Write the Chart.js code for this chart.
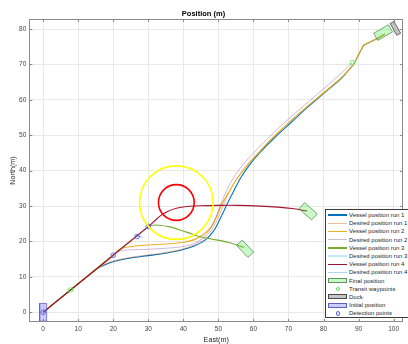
<!DOCTYPE html>
<html>
<head>
<meta charset="utf-8">
<title>Position (m)</title>
<script src="https://cdn.jsdelivr.net/npm/chart.js@4.4.1/dist/chart.umd.min.js"></script>
<style>
  body { margin: 0; background: #fff; }
  #wrap { position: relative; width: 408px; height: 344px; }
  #plot { display: block; }
  #legend {
    position: absolute; left: 325px; top: 209px; width: 84px; height: 109px;
    box-sizing: border-box; border: 1px solid #3c3c3c; background: #fff;
    font-family: "Liberation Sans", Arial, sans-serif; font-size: 6px; color: #262626;
    padding-top: 1px;
  }
  .item { position: relative; height: 8.2px; white-space: nowrap; }
  .item .txt { position: absolute; left: 23px; top: 0; line-height: 8.2px; }
  .item .sw { position: absolute; }
  .sw.line { left: 2px; width: 19px; }
  .sw.patch { left: 2px; top: 1.6px; width: 19px; height: 5px; box-sizing: border-box; border: 1px solid; }
  .sw.marker { left: 9.5px; top: 2px; width: 4.4px; height: 4.4px; box-sizing: border-box; border: 1px solid; border-radius: 50%; }
</style>
</head>
<body>
<div id="wrap">
  <canvas id="plot" width="408" height="344"></canvas>
  <div id="legend"></div>
</div>
<script>
// vessel tracks, [east, north] in metres
const vessel1 = [[0, 0], [15, 12], [16.5, 12.9], [18.5, 13.8], [20.7, 14.5], [23, 15.0], [25.4, 15.4], [30, 16], [35, 16.7],
  [39.5, 17.6], [43.3, 18.8], [46.2, 20.4], [48.5, 22.8], [50.2, 25.8], [51.5, 28.5], [52.7, 31.0], [54.5, 34.5],
  [56.5, 38.2], [59, 41.8], [62, 45.3], [66, 49.3], [70.5, 53.4], [75.3, 57.8], [80, 61.8], [85, 66], [88.2, 69.6],
  [88.5, 69.9], [88.7, 70.3], [91.2, 75.0], [91.4, 75.4], [91.8, 75.6], [96, 77.7], [97.5, 78.6]];
const desired1 = [[0, 0], [15, 12], [16.5, 13.1], [18.5, 14], [20.7, 14.7], [25.4, 15.6], [30, 16.2], [35, 16.9],
  [39.5, 17.8], [43, 19], [45.8, 20.7], [48, 23.2], [49.7, 26.2], [51, 29.2], [52.3, 32.3], [54, 35.7], [56.3, 39.2],
  [59, 42.6], [62.5, 46.2], [66.5, 50.2], [70.5, 54], [75.3, 58.1], [80, 62], [85, 66.2], [88.2, 69.6],
  [88.5, 69.9], [88.7, 70.3], [91.2, 75.0], [91.4, 75.4], [91.8, 75.6], [96, 77.7], [97.5, 78.6]];
const vessel2 = [[0, 0], [20, 16], [21, 17.3], [22.5, 18.1], [25.4, 18.6], [30, 19], [35, 19.3], [39.5, 19.7],
  [43.3, 20.6], [46, 22.2], [48, 24.2], [49.5, 27], [51, 30.5], [53, 34], [55.5, 38], [58.5, 41.8], [62, 45.7],
  [66, 49.8], [70.5, 54], [75.3, 58.1], [80, 62], [85, 66.2], [88.2, 69.6], [88.5, 69.9], [88.7, 70.3],
  [91.2, 75.0], [91.4, 75.4], [91.8, 75.6], [96, 77.7], [97.5, 78.6]];
const desired2 = [[0, 0], [20, 16], [21.5, 17.2], [24, 17.6], [30, 17.8], [35, 18.1], [39.5, 18.5], [43, 19.4],
  [45.5, 21], [47.5, 23.3], [49, 26.2], [50.3, 29.5], [51.5, 32.5], [53, 35.7], [55, 39], [57.5, 42.3], [61, 46],
  [65, 50], [70, 54.6], [76, 59.7], [82.9, 65.6], [88.2, 70.5]];
const vessel3 = [[0, 0], [30, 24.2], [31.5, 24.6], [33, 24.6], [35.8, 24.2], [38.6, 23.4], [41.4, 22.5], [44.3, 21.5],
  [48, 20.7], [52.7, 19.8], [57.3, 18.3]];
const desired3 = [[26.8, 21.4], [28, 21.3], [29, 21.1]];
const vessel4 = [[0, 0], [30, 24.2], [32, 26], [33.5, 27.3], [35.5, 28.5], [38, 29.4], [41, 29.9], [45, 30.1], [50, 30.2],
  [56, 30.2], [62, 30], [67, 29.7], [71, 29.3], [75.3, 28.6]];
const desired4 = [[26.8, 21.4], [28.2, 21.3]];

// vessel outlines at the end of each run, plus dock and start box
const finalRun12 = [[98.5, 81.2], [99.7, 79.2], [95.5, 76.8], [94.3, 78.8]];
const finalRun3 = [[56.8, 20.4], [60.1, 17.0], [58.4, 15.5], [55.2, 18.9]];
const finalRun4 = [[74.6, 31.0], [78.2, 27.8], [76.6, 26.1], [73.0, 29.2]];
const dock = [[102.0, 78.85], [100.9, 78.25], [99.0, 81.55], [100.1, 82.15]];
const initialBox = [[-1, -2.5], [1, -2.5], [1, 2.5], [-1, 2.5]];

const transitWaypoints = [[7.8, 6.3], [88.2, 70.5]];
const detectionPoints = [[0, 0], [20, 16.1], [26.8, 21.4], [30, 24.2]];

// obstacle and its safety zone
const obstacleCenter = [38, 31];
const innerRadius = 5.1;
const outerRadius = 10.5;

const xRange = [-3.95, 102.7];
const yRange = [-2.74, 82.85];

const pts = list => list.map(([x, y]) => ({ x, y }));

const lineSet = (label, data, color, width) => ({
  label, kind: 'line', data: pts(data), showLine: true, borderColor: color, borderWidth: width,
  pointRadius: 0, fill: false, tension: 0.3
});
const patchSet = (label, data, fill, edge) => ({
  label, kind: 'patch', data: pts([...data, data[0]]), showLine: true, borderColor: edge, backgroundColor: fill,
  borderWidth: 0.8, pointRadius: 0, fill: 'shape'
});
const markerSet = (label, data, color) => ({
  label, kind: 'marker', data: pts(data), showLine: false, pointRadius: 2.3, pointBorderColor: color,
  pointBackgroundColor: 'transparent', pointBorderWidth: 0.9
});
// ring radius is given in metres, converted to pixels through the x scale
const ringSet = (center, r, color) => ({
  label: '', data: pts([center]), showLine: false, pointBorderColor: color, pointBorderWidth: 1.6,
  pointBackgroundColor: 'transparent',
  pointRadius: ctx => {
    const s = ctx.chart.scales.x;
    const px = s ? Math.abs(s.getPixelForValue(r) - s.getPixelForValue(0)) : 0;
    return isFinite(px) ? px : 0;
  }
});

const datasets = [
  lineSet('Vessel position run 1', vessel1, '#0072BD', 1.1),
  lineSet('Desired position run 1', desired1, 'rgba(217,83,25,0.4)', 1),
  lineSet('Vessel position run 2', vessel2, '#EDB120', 1.1),
  lineSet('Desired position run 2', desired2, 'rgba(126,47,142,0.35)', 1),
  lineSet('Vessel position run 3', vessel3, '#77AC30', 1.1),
  lineSet('Desired position run 3', desired3, 'rgba(77,190,238,0.35)', 1),
  lineSet('Vessel position run 4', vessel4, '#A2142F', 1.1),
  lineSet('Desired position run 4', desired4, 'rgba(0,114,189,0.3)', 1),
  patchSet('Final position', finalRun12, 'rgba(0,230,0,0.22)', '#5f8f5f'),
  patchSet('Final position', finalRun3, 'rgba(0,230,0,0.22)', '#5f8f5f'),
  patchSet('Final position', finalRun4, 'rgba(0,230,0,0.22)', '#5f8f5f'),
  markerSet('Transit waypoints', transitWaypoints, '#55ee55'),
  patchSet('Dock', dock, 'rgba(150,150,150,0.55)', '#4a4a4a'),
  patchSet('Initial position', initialBox, 'rgba(90,90,255,0.3)', '#6060c0'),
  markerSet('Detection points', detectionPoints, '#5a5aff'),
  ringSet(obstacleCenter, outerRadius, '#FFFF00'),
  ringSet(obstacleCenter, innerRadius, '#FF0000')
];
// later datasets go on top
datasets.forEach((ds, i) => { ds.order = -i; });

const htmlLegend = {
  id: 'htmlLegend',
  afterUpdate(chart) {
    const box = document.getElementById('legend');
    box.innerHTML = '';
    const seen = new Set();
    chart.data.datasets.forEach(ds => {
      if (!ds.label || seen.has(ds.label)) return;
      seen.add(ds.label);
      const row = document.createElement('div');
      row.className = 'item';
      const sw = document.createElement('div');
      sw.className = 'sw ' + ds.kind;
      if (ds.kind === 'line') {
        const w = ds.borderWidth + 0.3;
        sw.style.height = w + 'px';
        sw.style.top = (4.1 - w / 2) + 'px';
        sw.style.background = ds.borderColor;
      } else if (ds.kind === 'patch') {
        sw.style.background = ds.backgroundColor;
        sw.style.borderColor = ds.borderColor;
      } else {
        sw.style.borderColor = ds.pointBorderColor;
      }
      const txt = document.createElement('span');
      txt.className = 'txt';
      txt.textContent = ds.label;
      row.appendChild(sw);
      row.appendChild(txt);
      box.appendChild(row);
    });
  }
};

// full box round the axes with inward tick marks
const axesBox = {
  id: 'axesBox',
  afterDatasetsDraw(chart) {
    const { ctx, chartArea: a, scales: { x, y } } = chart;
    ctx.save();
    ctx.strokeStyle = '#8a8a8a';
    ctx.lineWidth = 1;
    ctx.strokeRect(Math.round(a.left) + 0.5, Math.round(a.top) + 0.5,
      Math.round(a.right) - Math.round(a.left) - 1, Math.round(a.bottom) - Math.round(a.top) - 1);
    ctx.beginPath();
    x.ticks.forEach(t => {
      const px = Math.round(x.getPixelForValue(t.value)) + 0.5;
      ctx.moveTo(px, a.bottom); ctx.lineTo(px, a.bottom - 3);
      ctx.moveTo(px, a.top); ctx.lineTo(px, a.top + 3);
    });
    y.ticks.forEach(t => {
      const py = Math.round(y.getPixelForValue(t.value)) + 0.5;
      ctx.moveTo(a.left, py); ctx.lineTo(a.left + 3, py);
      ctx.moveTo(a.right, py); ctx.lineTo(a.right - 3, py);
    });
    ctx.stroke();
    ctx.restore();
  }
};

Chart.defaults.font.family = '"Liberation Sans", Arial, sans-serif';

new Chart(document.getElementById('plot'), {
  type: 'scatter',
  data: { datasets },
  plugins: [htmlLegend, axesBox],
  options: {
    responsive: false,
    animation: false,
    devicePixelRatio: 1,
    events: [],
    layout: { padding: { left: 0, right: 1, top: 0, bottom: 0 } },
    plugins: {
      legend: { display: false },
      tooltip: { enabled: false },
      title: {
        display: true,
        text: 'Position (m)',
        color: '#000',
        font: { size: 7.5, weight: 'bold', lineHeight: 1.25 },
        padding: { top: 9, bottom: 0.6 }
      }
    },
    scales: {
      x: {
        type: 'linear',
        min: xRange[0],
        max: xRange[1],
        afterFit: s => { s.height = 22; },
        grid: { color: '#e8e8e8', drawTicks: false },
        border: { display: false },
        ticks: { stepSize: 10, includeBounds: false, padding: 3, color: '#444', font: { size: 6.5 } },
        title: { display: true, text: 'East(m)', color: '#262626', font: { size: 7.2, lineHeight: 1.2 }, padding: 0 }
      },
      y: {
        type: 'linear',
        min: yRange[0],
        max: yRange[1],
        afterFit: s => { s.width = 29.3; },
        grid: { color: '#e8e8e8', drawTicks: false },
        border: { display: false },
        ticks: { stepSize: 10, includeBounds: false, padding: 3, color: '#444', font: { size: 6.5 } },
        title: { display: true, text: 'North(m)', color: '#262626', font: { size: 7.2, lineHeight: 1.2 }, padding: { top: 8.5, bottom: 0 } }
      }
    }
  }
});
</script>
</body>
</html>
